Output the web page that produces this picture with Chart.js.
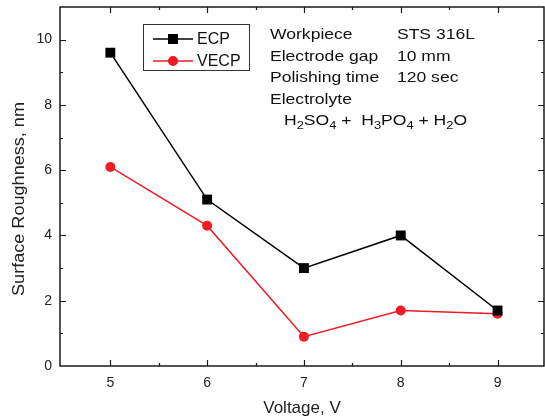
<!DOCTYPE html>
<html>
<head>
<meta charset="utf-8">
<script src="https://cdn.jsdelivr.net/npm/chart.js@4"></script>
<style>
  html, body { margin: 0; padding: 0; background: #fff; }
  #wrap { width: 545px; height: 419px; }
</style>
</head>
<body>
<div id="wrap"><canvas id="chart" width="545" height="419"></canvas></div>
<script>
// data
var voltages = [5, 6, 7, 8, 9];
var ecp = [9.6, 5.1, 3.0, 4.0, 1.7];
var vecp = [6.1, 4.3, 0.9, 1.7, 1.6];
var xTicks = [5, 6, 7, 8, 9];
var xMinor = [5.5, 6.5, 7.5, 8.5];
var yTicks = [0, 2, 4, 6, 8, 10];
var yMinor = [1, 3, 5, 7, 9];
var yTitle = 'Surface Roughness, nm';
var infoRows = [
    ['Workpiece', 'STS 316L'],
    ['Electrode gap', '10 mm'],
    ['Polishing time', '120 sec'],
    ['Electrolyte', '']
];

var FONT = '"Liberation Sans", Arial, sans-serif';

function pts(ys) {
    return voltages.map(function(v, i) { return { x: v, y: ys[i] }; });
}

// frame with inward ticks on all four sides, legend box and the text block
var framePlugin = {
    id: 'frame',
    afterDatasetsDraw: function(chart) {
        var ctx = chart.ctx, a = chart.chartArea;
        var xs = chart.scales.x, ys = chart.scales.y;
        ctx.save();
        ctx.strokeStyle = '#1a1a1a';
        ctx.lineWidth = 1.5;
        ctx.strokeRect(a.left, a.top, a.right - a.left, a.bottom - a.top);

        ctx.lineWidth = 1.2;
        ctx.beginPath();
        function xt(vals, len) {
            vals.forEach(function(v) {
                var p = Math.round(xs.getPixelForValue(v)) + 0.5;
                ctx.moveTo(p, a.bottom); ctx.lineTo(p, a.bottom - len);
                ctx.moveTo(p, a.top); ctx.lineTo(p, a.top + len);
            });
        }
        function yt(vals, len) {
            vals.forEach(function(v) {
                var p = Math.round(ys.getPixelForValue(v)) + 0.5;
                ctx.moveTo(a.left, p); ctx.lineTo(a.left + len, p);
                ctx.moveTo(a.right, p); ctx.lineTo(a.right - len, p);
            });
        }
        xt(xTicks, 6); xt(xMinor, 3);
        yt(yTicks.filter(function(v) { return v > 0; }), 6); yt(yMinor, 3);
        ctx.stroke();

        // y axis title, centred a little below the middle like the original
        ctx.save();
        ctx.translate(20, 199);
        ctx.rotate(-Math.PI / 2);
        ctx.scale(1.13, 1);
        ctx.font = '16px ' + FONT;
        ctx.fillStyle = '#222';
        ctx.textAlign = 'center';
        ctx.textBaseline = 'middle';
        ctx.fillText(yTitle, 0, 0);
        ctx.restore();

        // legend
        ctx.lineWidth = 1;
        ctx.strokeStyle = '#333';
        ctx.strokeRect(143.5, 24.5, 106, 46);
        ctx.font = '16px ' + FONT;
        ctx.textBaseline = 'middle';
        ctx.fillStyle = '#111';
        chart.data.datasets.forEach(function(ds, i) {
            var y = 39 + i * 22;
            ctx.strokeStyle = ds.borderColor;
            ctx.lineWidth = 1.5;
            ctx.beginPath(); ctx.moveTo(153, y); ctx.lineTo(193, y); ctx.stroke();
            Chart.helpers.drawPoint(ctx, {
                pointStyle: ds.pointStyle, radius: ds.pointRadius * 0.85, borderWidth: 1
            }, 173, y);
            ctx.fillStyle = ds.backgroundColor;
            ctx.fill();
            ctx.fillStyle = '#111';
            ctx.fillText(ds.label, 197, y + 1);
        });

        // text block (the original is slightly stretched sideways)
        ctx.save();
        ctx.translate(270, 0);
        ctx.scale(1.17, 1);
        ctx.font = '15px ' + FONT;
        ctx.textBaseline = 'alphabetic';
        ctx.fillStyle = '#111';
        infoRows.forEach(function(r, i) {
            var y = 39 + i * 21.6;
            ctx.fillText(r[0], 0, y);
            if (r[1]) ctx.fillText(r[1], 108.5, y);
        });
        var parts = [['H', 0], ['2', 1], ['SO', 0], ['4', 1], [' +  H', 0], ['3', 1],
                     ['PO', 0], ['4', 1], [' + H', 0], ['2', 1], ['O', 0]];
        var x = 12, base = 125;
        parts.forEach(function(p) {
            ctx.font = (p[1] ? '11px ' : '15px ') + FONT;
            ctx.fillText(p[0], x, base + (p[1] ? 4 : 0));
            x += ctx.measureText(p[0]).width;
        });
        ctx.restore();
        ctx.restore();
    }
};

new Chart(document.getElementById('chart').getContext('2d'), {
    type: 'line',
    data: {
        datasets: [{
            label: 'ECP',
            data: pts(ecp),
            borderColor: '#000000',
            backgroundColor: '#000000',
            borderWidth: 1.5,
            pointStyle: 'rect',
            pointRadius: 7,
            pointBorderWidth: 0
        }, {
            label: 'VECP',
            data: pts(vecp),
            borderColor: '#ee1c24',
            backgroundColor: '#ee1c24',
            borderWidth: 1.5,
            pointStyle: 'circle',
            pointRadius: 5,
            pointBorderWidth: 0
        }]
    },
    options: {
        responsive: false,
        animation: false,
        layout: { autoPadding: false, padding: { left: 0, right: 1, top: 7, bottom: 0 } },
        plugins: {
            legend: { display: false },
            tooltip: { enabled: false }
        },
        scales: {
            x: {
                type: 'linear',
                min: 4.48,
                max: 9.48,
                afterBuildTicks: function(s) { s.ticks = xTicks.map(function(v) { return { value: v }; }); },
                afterFit: function(s) { s.height = 53; s.paddingLeft = 0; s.paddingRight = 0; },
                grid: { display: false, drawTicks: false },
                border: { display: false },
                ticks: { color: '#222', font: { family: FONT, size: 14 }, padding: 9 },
                title: {
                    display: true, text: 'Voltage, V', color: '#222',
                    font: { family: FONT, size: 17 }, padding: { top: 8, bottom: 0 }
                }
            },
            y: {
                min: 0,
                max: 11,
                afterBuildTicks: function(s) { s.ticks = yTicks.map(function(v) { return { value: v }; }); },
                afterFit: function(s) { s.width = 60; s.paddingTop = 0; s.paddingBottom = 0; },
                grid: { display: false, drawTicks: false },
                border: { display: false },
                ticks: { color: '#222', font: { family: FONT, size: 14 }, padding: 8 }
            }
        }
    },
    plugins: [framePlugin]
});
</script>
</body>
</html>
